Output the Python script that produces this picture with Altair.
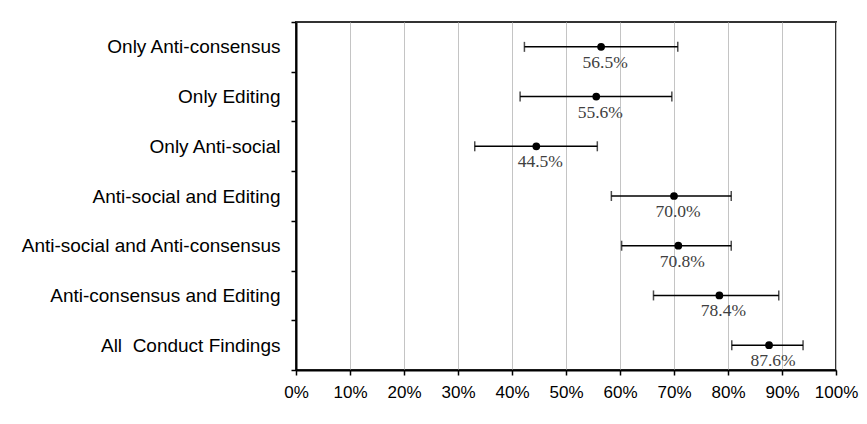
import altair as alt
import pandas as pd

cats = [
    "Only Anti-consensus",
    "Only Editing",
    "Only Anti-social",
    "Anti-social and Editing",
    "Anti-social and Anti-consensus",
    "Anti-consensus and Editing",
    "All \u00a0Conduct Findings",
]
values = [56.5, 55.6, 44.5, 70.0, 70.8, 78.4, 87.6]
lows = [42.3, 41.5, 33.1, 58.4, 60.3, 66.2, 80.7]
highs = [70.7, 69.6, 55.8, 80.6, 80.6, 89.4, 93.9]
x_ticks = [0, 10, 20, 30, 40, 50, 60, 70, 80, 90, 100]

df = pd.DataFrame({"cat": cats, "v": values, "lo": lows, "hi": highs})
df["label"] = [f"{v:.1f}%" for v in values]

xsc = alt.Scale(domain=[0, 100], nice=False, zero=True)
xaxis = alt.Axis(
    title=None,
    values=x_ticks,
    labelExpr="datum.value + '%'",
    labelOverlap=False,
    labelFlush=False,
    grid=True,
    gridColor="#c4c4c4",
    gridWidth=1,
    domainColor="black",
    domainWidth=2,
    tickColor="black",
    tickWidth=1.5,
    tickSize=5,
    labelFont="Liberation Sans",
    labelFontSize=17,
    labelColor="black",
    labelPadding=9,
)
ysc = alt.Scale(type="band", domain=cats, paddingInner=0, paddingOuter=0)
yaxis = alt.Axis(
    title=None,
    tickBand="extent",
    grid=False,
    domainColor="black",
    domainWidth=2,
    tickColor="black",
    tickWidth=1.5,
    tickSize=5,
    labelFont="Liberation Sans",
    labelFontSize=19,
    labelColor="black",
    labelPadding=11,
    labelLimit=400,
)

y = alt.Y("cat:N", scale=ysc, sort=cats, axis=yaxis)
base = alt.Chart(df)

rule = base.mark_rule(color="black", strokeWidth=1.5).encode(
    x=alt.X("lo:Q", scale=xsc, axis=xaxis), x2="hi:Q", y=y
)
cap_lo = base.mark_tick(orient="vertical", size=10, thickness=1.5, color="black").encode(
    x=alt.X("lo:Q", scale=xsc), y=y
)
cap_hi = base.mark_tick(orient="vertical", size=10, thickness=1.5, color="black").encode(
    x=alt.X("hi:Q", scale=xsc), y=y
)
pts = base.mark_circle(size=60, color="black", opacity=1).encode(
    x=alt.X("v:Q", scale=xsc), y=y
)
labels = base.mark_text(
    font="Liberation Serif", fontSize=17.5, color="#404040", dx=4, dy=16
).encode(x=alt.X("v:Q", scale=xsc), y=y, text="label:N")

chart = (
    alt.layer(rule, cap_lo, cap_hi, pts, labels)
    .properties(
        width=540,
        height=348,
        autosize=alt.AutoSizeParams(type="none"),
        padding={"left": 288, "top": 14, "right": 23, "bottom": 46},
        background="white",
    )
    .configure_view(stroke="#333333", strokeWidth=2)
)

chart.save("out.html", embed_options={"renderer": "svg", "actions": False})
